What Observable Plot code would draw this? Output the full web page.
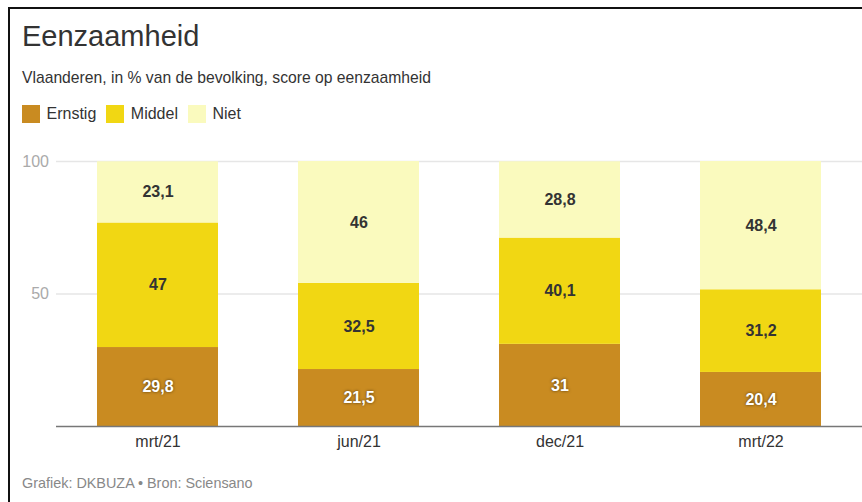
<!DOCTYPE html>
<html>
<head>
<meta charset="utf-8">
<script src="https://cdn.jsdelivr.net/npm/d3@7"></script>
<script src="https://cdn.jsdelivr.net/npm/@observablehq/plot@0.6"></script>
<style>
  html, body { margin: 0; padding: 0; background: #fff; overflow: hidden; width: 862px; height: 502px; }
  body { font-family: "Liberation Sans", Arial, sans-serif; position: relative; }
  #frame { position: absolute; left: 8px; top: 7px; width: 900px; height: 600px; border-left: 2px solid #111; border-top: 2px solid #111; }
  #title { position: absolute; left: 22px; top: 20px; font-size: 29px; color: #333; white-space: nowrap; }
  #subtitle { position: absolute; left: 22px; top: 69px; font-size: 15.7px; color: #333; white-space: nowrap; }
  #legend { position: absolute; left: 22px; top: 104.5px; font-size: 16px; color: #333; display: flex; align-items: center; white-space: nowrap; }
  .sw { width: 18px; height: 18px; display: inline-block; margin-right: 6.5px; }
  .item { display: flex; align-items: center; margin-right: 10px; }
  #chart { position: absolute; left: 0; top: 140px; }
  #caption { position: absolute; left: 22px; top: 475px; font-size: 14.4px; color: #888; white-space: nowrap; }
  .white-lbl text { text-shadow: 0 0 3px rgba(0,0,0,0.6); }
</style>
</head>
<body>
<div id="frame"></div>
<div id="title">Eenzaamheid</div>
<div id="subtitle">Vlaanderen, in % van de bevolking, score op eenzaamheid</div>
<div id="legend"></div>
<div id="chart"></div>
<div id="caption">Grafiek: DKBUZA • Bron: Sciensano</div>
<script>
const periods = ["mrt/21", "jun/21", "dec/21", "mrt/22"];
const series = ["Ernstig", "Middel", "Niet"];
const colors = ["#c98b21", "#f1d713", "#fafabe"];
const ernstig = [29.8, 21.5, 31, 20.4];
const middel = [47, 32.5, 40.1, 31.2];
const niet = [23.1, 46, 28.8, 48.4];
const yTicks = [50, 100];

const values = [ernstig, middel, niet];
const data = [];
series.forEach((s, si) => periods.forEach((p, pi) => data.push({period: p, series: s, value: values[si][pi]})));

const fmt = d => String(d).replace(".", ",");

const legend = document.getElementById("legend");
series.forEach((s, i) => {
  const it = document.createElement("div");
  it.className = "item";
  it.innerHTML = `<span class="sw" style="background:${colors[i]}"></span><span>${s}</span>`;
  legend.appendChild(it);
});

const stackOpts = {x: "period", y: "value", z: "series"};
const chart = Plot.plot({
  width: 862,
  height: 320,
  marginLeft: 56,
  marginRight: 0,
  marginTop: 21,
  marginBottom: 34,
  style: {fontFamily: "'Liberation Sans', Arial, sans-serif", fontSize: "16px", color: "#333", background: "transparent"},
  x: {domain: periods, paddingInner: 0.4, paddingOuter: 0.2, label: null},
  y: {domain: [0, 100], label: null},
  color: {domain: series, range: colors},
  marks: [
    Plot.ruleY(yTicks, {stroke: "#e6e6e6", strokeWidth: 1.5}),
    Plot.axisY(yTicks, {tickSize: 0, tickPadding: 7.5, fill: "#aaa", fontSize: 16, label: null}),
    Plot.axisX({tickSize: 0, tickPadding: 9, fill: "#333", fontSize: 16, label: null}),
    Plot.barY(data, Plot.stackY({...stackOpts, fill: "series", inset: 0})),
    Plot.ruleY([0], {stroke: "#777", strokeWidth: 1.5}),
    Plot.text(data, Plot.stackY({...stackOpts, text: d => d.series !== "Ernstig" ? fmt(d.value) : "", fill: "#333", fontWeight: "bold", fontSize: 16})),
    Plot.text(data, Plot.stackY({...stackOpts, text: d => d.series === "Ernstig" ? fmt(d.value) : "", fill: "#fff", fontWeight: "bold", fontSize: 16, className: "white-lbl"}))
  ]
});
document.getElementById("chart").appendChild(chart);
</script>
</body>
</html>
